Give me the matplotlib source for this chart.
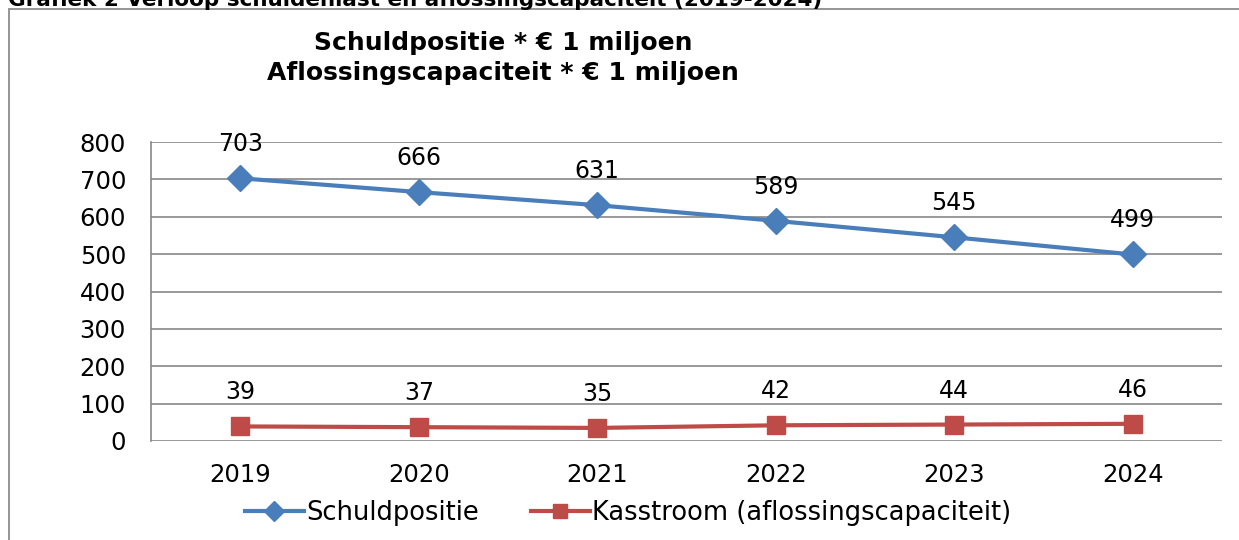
import matplotlib.pyplot as plt
from matplotlib.patches import Rectangle

# Data
years = ['2019', '2020', '2021', '2022', '2023', '2024']
schuldpositie = [703, 666, 631, 589, 545, 499]
kasstroom = [39, 37, 35, 42, 44, 46]

blue = '#4A7EBB'
red = '#BE4B48'
grid_col = '#878787'

plt.rcParams['font.family'] = 'DejaVu Sans'

fig = plt.figure(figsize=(12.39, 5.40), dpi=100)
ax = fig.add_axes([151 / 1239, 1 - 441 / 540, (1222 - 151) / 1239, (441 - 142) / 540])

x = [i + 0.5 for i in range(len(years))]
ax.plot(x, schuldpositie, color=blue, lw=3, marker='D', ms=13, label='Schuldpositie')
ax.plot(x, kasstroom, color=red, lw=3, marker='s', ms=13, label='Kasstroom (aflossingscapaciteit)')

for xi, v in zip(x, schuldpositie):
    ax.annotate(str(v), (xi, v), xytext=(0, 24.5), textcoords='offset points',
                ha='center', va='center', fontsize=17)
for xi, v in zip(x, kasstroom):
    ax.annotate(str(v), (xi, v), xytext=(0, 24.5), textcoords='offset points',
                ha='center', va='center', fontsize=17)

ax.set_xlim(0, len(years))
ax.set_ylim(0, 800)
ax.set_yticks(range(0, 801, 100))
ax.set_xticks(x)
ax.set_xticklabels(years)
ax.tick_params(axis='both', length=0, labelsize=17.5)
ax.tick_params(axis='y', pad=18)
ax.tick_params(axis='x', pad=16)
ax.yaxis.grid(True, color=grid_col, lw=1.2)
ax.set_axisbelow(True)
for s in ['top', 'right', 'bottom']:
    ax.spines[s].set_visible(False)
ax.spines['left'].set_color(grid_col)
ax.spines['left'].set_linewidth(1.2)

fig.text(503 / 1239, 1 - 43 / 540, 'Schuldpositie * € 1 miljoen', ha='center', va='center',
         fontsize=18, fontweight='bold')
fig.text(503 / 1239, 1 - 73 / 540, 'Aflossingscapaciteit * € 1 miljoen', ha='center', va='center',
         fontsize=18, fontweight='bold')

# partly cut-off caption at the top (cut off in the original as well)
fig.text(8 / 1239, 1 - 6 / 540, 'Grafiek 2 Verloop schuldenlast en aflossingscapaciteit (2019-2024)',
         ha='left', va='baseline', fontsize=15.5, fontweight='bold')

# chart border
fig.patches.append(Rectangle((9 / 1239, -0.1), 1.1, 1 - 9 / 540 + 0.1, transform=fig.transFigure,
                             fill=False, edgecolor='#8C8C8C', lw=1.3))

fig.legend(loc='center', bbox_to_anchor=(628 / 1239, 1 - 513 / 540), ncol=2, frameon=False,
           fontsize=18.5, handlelength=2.3, handletextpad=0.1, columnspacing=2.0, markerscale=0.75)

fig.savefig('out.png', dpi=100)
